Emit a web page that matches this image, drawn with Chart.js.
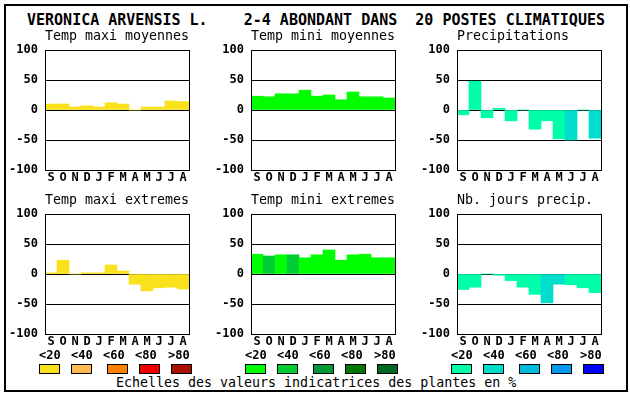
<!DOCTYPE html>
<html lang="fr">
  <head>
    <meta charset="UTF-8" />
    <title>Veronica arvensis L.</title>
    <script src="https://cdn.jsdelivr.net/npm/chart.js"></script>
    <style>
      body {
        margin: 0;
        background: #ffffff;
        font-family: "DejaVu Sans Mono", monospace;
      }
      #page {
        position: relative;
        width: 630px;
        height: 394px;
        overflow: hidden;
      }
      .frame {
        position: absolute;
        left: 4px;
        top: 4px;
        width: 620px;
        height: 384px;
        border: 2px solid #000;
      }
      .panel {
        position: absolute;
      }
      .txt {
        position: absolute;
        white-space: pre;
        line-height: 1;
        color: #000;
      }
      .main {
        font-size: 15px;
        font-weight: bold;
      }
      .ptitle {
        font-size: 13.3px;
      }
      .lab {
        font-size: 12px;
        font-weight: bold;
      }
      .box {
        position: absolute;
        width: 19px;
        height: 8px;
        border: 1px solid #000;
      }
    </style>
  </head>
  <body>
    <div id="page">
      <div class="frame"></div>
      <div class="txt main" style="left: 27px; top: 13px">VERONICA ARVENSIS L.    2-4 ABONDANT DANS  20 POSTES CLIMATIQUES</div>
      <div class="txt ptitle" style="left: 116px; top: 375.5px">Echelles des valeurs indicatrices des plantes en %</div>
    </div>

    <script>
      // mois (septembre -> aout)
      const months = ["S", "O", "N", "D", "J", "F", "M", "A", "M", "J", "J", "A"];
      const yTicks = [-100, -50, 0, 50, 100];

      // valeurs
      const tempMaxiMoy = [10, 10, 5, 7, 5, 12, 10, 0, 5, 5, 15, 14];
      const tempMiniMoy = [23, 22, 27, 27, 33, 23, 25, 17, 30, 22, 22, 20];
      const precip = [-8, 48, -13, 3, -18, 0, -32, -18, -48, -50, 0, -47];
      const tempMaxiExt = [2, 23, 0, 2, 2, 15, 5, -17, -28, -23, -22, -25];
      const tempMiniExt = [33, 30, 32, 32, 27, 32, 40, 23, 32, 33, 27, 27];
      const nbJours = [-26, -22, 0, -2, -11, -22, -34, -48, -17, -18, -23, -31];

      // classe (0..4) de chaque barre : <20 <40 <60 <80 >80
      const clsMaxiMoy = [0, 0, 0, 0, 0, 0, 0, 0, 0, 0, 0, 0];
      const clsMiniMoy = [0, 0, 0, 0, 0, 0, 0, 0, 0, 0, 0, 0];
      const clsPrecip = [0, 0, 0, 0, 0, 0, 0, 0, 0, 1, 0, 1];
      const clsMaxiExt = [0, 0, 0, 0, 0, 0, 0, 0, 0, 0, 0, 0];
      const clsMiniExt = [0, 1, 0, 1, 0, 0, 0, 0, 0, 0, 0, 0];
      const clsJours = [0, 0, 0, 0, 0, 0, 0, 1, 1, 0, 0, 0];

      const scaleLabels = ["<20", "<40", "<60", "<80", ">80"];

      // palettes
      const warm = ["#f9e11c", "#ffbb4d", "#ff7f00", "#ee0000", "#aa1100"];
      const green = ["#00ff00", "#00cc33", "#009933", "#007700", "#006622"];
      const blue = ["#00ffaa", "#00ddcc", "#00bbdd", "#0099ee", "#0000ff"];

      const page = document.getElementById("page");

      // cadre du graphique
      const framePlugin = {
        id: "frame",
        afterDraw(chart) {
          const a = chart.chartArea;
          const ctx = chart.ctx;
          ctx.save();
          ctx.strokeStyle = "#000";
          ctx.lineWidth = 1;
          ctx.strokeRect(
            Math.round(a.left) + 0.5,
            Math.round(a.top) + 0.5,
            Math.round(a.right - a.left),
            Math.round(a.bottom - a.top)
          );
          ctx.restore();
        },
      };

      function addText(cls, text, left, top) {
        const d = document.createElement("div");
        d.className = "txt " + cls;
        d.style.left = left + "px";
        d.style.top = top + "px";
        d.textContent = text;
        page.appendChild(d);
      }

      function makePanel(title, values, classes, palette, left, top) {
        const cv = document.createElement("canvas");
        cv.className = "panel";
        cv.width = 200;
        cv.height = 150;
        cv.style.left = left + "px";
        cv.style.top = top + "px";
        page.appendChild(cv);

        addText("ptitle", title, left + 45, top - 11.2);

        new Chart(cv.getContext("2d"), {
          type: "bar",
          data: {
            labels: months,
            datasets: [
              {
                data: values,
                backgroundColor: classes.map((c) => palette[c]),
                borderWidth: 0,
                barPercentage: 1,
                categoryPercentage: 1,
              },
            ],
          },
          options: {
            responsive: false,
            animation: false,
            devicePixelRatio: 1,
            layout: { padding: { top: 10, right: 11, left: 0, bottom: 0 } },
            plugins: {
              legend: { display: false },
              tooltip: { enabled: false },
            },
            scales: {
              x: {
                afterFit: (s) => {
                  s.height = 20;
                  s.paddingLeft = 0;
                  s.paddingRight = 0;
                },
                grid: { display: false, drawTicks: false },
                border: { display: false },
                ticks: {
                  autoSkip: false,
                  maxRotation: 0,
                  padding: 1,
                  color: "#000",
                  font: { family: "DejaVu Sans Mono", size: 12, weight: "bold" },
                },
              },
              y: {
                min: -100,
                max: 100,
                z: 1,
                afterFit: (s) => {
                  s.width = 45;
                  s.paddingTop = 0;
                  s.paddingBottom = 0;
                },
                afterBuildTicks: (s) => {
                  s.ticks = yTicks.map((v) => ({ value: v }));
                },
                grid: {
                  drawTicks: false,
                  lineWidth: 1,
                  color: (c) =>
                    c.tick && Math.abs(c.tick.value) === 100 ? "rgba(0,0,0,0)" : "#000",
                },
                border: { display: false },
                ticks: {
                  padding: 7,
                  color: "#000",
                  font: { family: "DejaVu Sans Mono", size: 12, weight: "bold" },
                },
              },
            },
          },
          plugins: [framePlugin],
        });
      }

      makePanel("Temp maxi moyennes", tempMaxiMoy, clsMaxiMoy, warm, 0, 40);
      makePanel("Temp mini moyennes", tempMiniMoy, clsMiniMoy, green, 206, 40);
      makePanel("Precipitations", precip, clsPrecip, blue, 412, 40);
      makePanel("Temp maxi extremes", tempMaxiExt, clsMaxiExt, warm, 0, 204);
      makePanel("Temp mini extremes", tempMiniExt, clsMiniExt, green, 206, 204);
      makePanel("Nb. jours precip.", nbJours, clsJours, blue, 412, 204);

      // legendes des echelles de couleurs
      const labOffsets = [-6, 26, 58, 90, 123];
      const boxOffsets = [-6, 26, 62, 94, 126];
      [warm, green, blue].forEach((pal, g) => {
        const base = 45 + g * 206;
        scaleLabels.forEach((t, i) => {
          addText("lab", t, base + labOffsets[i], 348.5);
          const b = document.createElement("div");
          b.className = "box";
          b.style.left = base + boxOffsets[i] + "px";
          b.style.top = "364px";
          b.style.background = pal[i];
          page.appendChild(b);
        });
      });
    </script>
  </body>
</html>
